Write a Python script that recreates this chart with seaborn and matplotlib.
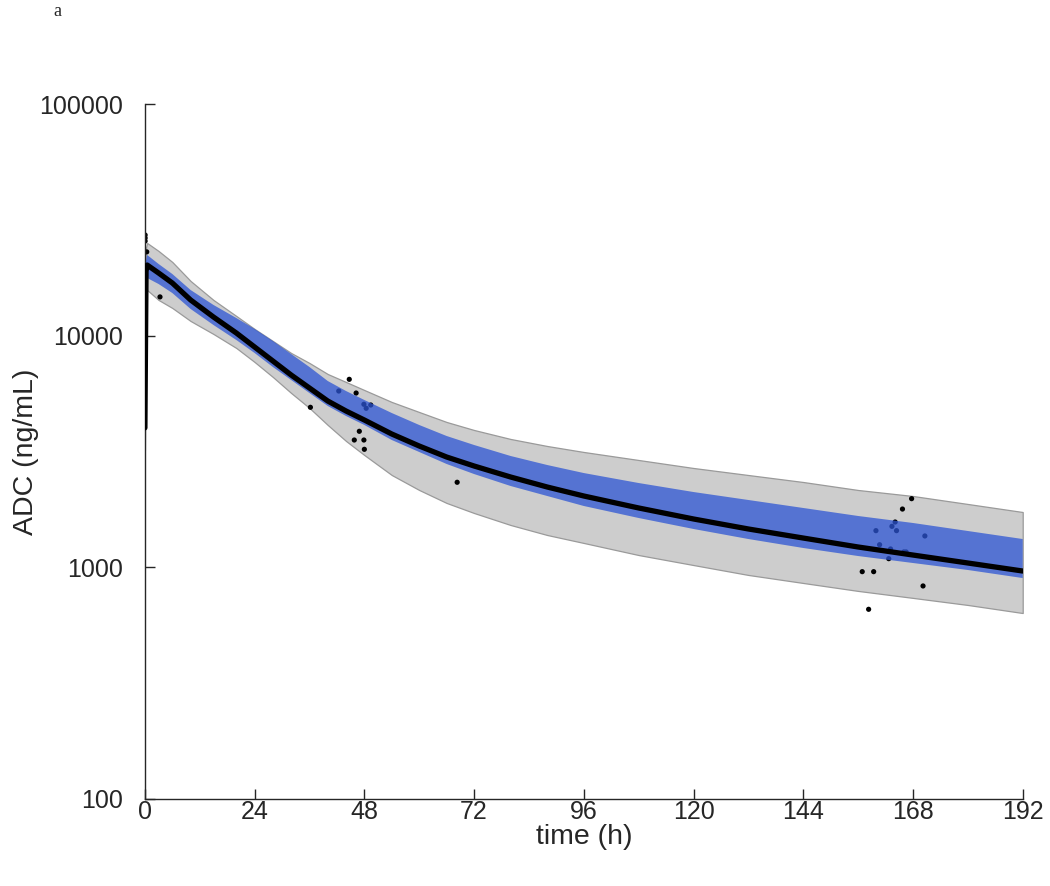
import numpy as np
import pandas as pd
import matplotlib
matplotlib.use("Agg")
import matplotlib.pyplot as plt
import seaborn as sns
from matplotlib.ticker import FixedLocator, NullLocator, FixedFormatter

# ---- data ----
time_h = [0, 0.25, 0.5, 3, 6, 10, 15, 20, 24, 28, 32, 36, 40, 44, 48, 54, 60, 66, 72,
          80, 88, 96, 108, 120, 132, 144, 156, 168, 180, 192]
median = [4000, 19000, 20180, 18640, 16880, 14260, 12040, 10270, 8935, 7774, 6763, 5943,
          5224, 4729, 4325, 3763, 3340, 2994, 2738, 2454, 2222, 2032, 1804, 1617, 1464,
          1338, 1224, 1130, 1044, 964]
ci_upper = [4600, 21000, 22300, 20390, 18460, 15745, 13570, 11920, 10690, 9484, 8333, 7323,
            6372, 5768, 5277, 4636, 4116, 3689, 3374, 3024, 2765, 2553, 2312, 2114, 1953,
            1804, 1666, 1554, 1435, 1325]
ci_lower = [3500, 16500, 17740, 16710, 15280, 13040, 11120, 9579, 8416, 7323, 6435, 5655,
            4971, 4500, 4116, 3545, 3147, 2793, 2528, 2244, 2032, 1840, 1633, 1464, 1325,
            1212, 1119, 1044, 974, 899]
pi_upper = [5000, 24000, 25120, 23200, 20800, 17220, 14260, 12160, 10690, 9484, 8416, 7621,
            6830, 6310, 5826, 5173, 4682, 4240, 3916, 3581, 3340, 3147, 2906, 2684, 2503,
            2335, 2157, 2032, 1877, 1733]
pi_lower = [3200, 15000, 15745, 14260, 13170, 11570, 10170, 8847, 7697, 6630, 5655, 4873,
            4116, 3510, 3053, 2503, 2157, 1896, 1716, 1523, 1379, 1274, 1130, 1023, 927,
            856, 791, 738, 688, 635]

obs_time = [0.05, 0.05, 0.05, 0.4, 3.3,
            44.7, 42.4, 46.2, 36.2, 47.9, 49.4, 48.4, 46.9, 45.8, 47.9, 48.0, 68.3,
            167.7, 165.7, 164.1, 159.9, 163.4, 164.4, 170.6, 160.7, 163.1, 166.0, 166.5,
            162.7, 156.9, 159.4, 170.2, 158.3]
obs_conc = [27200, 26400, 25600, 23000, 14700,
            6480, 5770, 5655, 4907, 5056, 5020, 4860, 3866, 3545, 3545, 3232, 2329,
            1979, 1785, 1569, 1440, 1503, 1440, 1366, 1252, 1200, 1165, 1165,
            1090, 958, 958, 831, 659]

x_ticks = [0, 24, 48, 72, 96, 120, 144, 168, 192]
y_ticks = [100, 1000, 10000, 100000]
y_tick_labels = ["100", "1000", "10000", "100000"]

# ---- plot ----
sns.set_theme(style="white")
plt.rcParams["font.family"] = ["Liberation Sans", "DejaVu Sans"]

fig = plt.figure(figsize=(10.5, 8.86), dpi=100)
ax = fig.add_axes([0.138, 0.0982, 0.836, 0.7844])

curve = pd.DataFrame({"time": time_h, "median": median, "ci_lo": ci_lower,
                      "ci_hi": ci_upper, "pi_lo": pi_lower, "pi_hi": pi_upper})
obs = pd.DataFrame({"time": obs_time, "conc": obs_conc})

ax.fill_between(curve["time"], curve["pi_lo"], curve["pi_hi"], facecolor="#cdcdcd",
                edgecolor="#9a9a9a", linewidth=0.9, zorder=1)
sns.scatterplot(data=obs, x="time", y="conc", ax=ax, color="black", s=14,
                edgecolor="none", zorder=2, legend=False)
ax.fill_between(curve["time"], curve["ci_lo"], curve["ci_hi"],
                facecolor=(45/255, 85/255, 212/255), alpha=0.75,
                edgecolor="none", linewidth=0, zorder=3)
sns.lineplot(data=curve, x="time", y="median", ax=ax, color="black", linewidth=3.8,
             zorder=4, legend=False)

ax.set_yscale("log")
ax.set_xlim(0, 192)
ax.set_ylim(100, 100000)
ax.xaxis.set_major_locator(FixedLocator(x_ticks))
ax.yaxis.set_major_locator(FixedLocator(y_ticks))
ax.yaxis.set_major_formatter(FixedFormatter(y_tick_labels))
ax.yaxis.set_minor_locator(NullLocator())
ax.tick_params(axis="both", which="major", direction="in", length=7, width=1.0,
               color="#262626", labelsize=18, labelcolor="#262626")
ax.tick_params(axis="y", pad=16)
ax.tick_params(axis="x", pad=1)
ax.tick_params(bottom=True, left=True)

for side in ["top", "right"]:
    ax.spines[side].set_visible(False)
for side in ["left", "bottom"]:
    ax.spines[side].set_color("#262626")
    ax.spines[side].set_linewidth(1.0)

ax.set_xlabel("time (h)", fontsize=20.5, color="#262626", labelpad=0)
ax.set_ylabel("ADC (ng/mL)", fontsize=20.5, color="#262626", labelpad=0)

fig.text(0.055, 0.997, "a", fontsize=13, family="Liberation Serif", va="top", ha="center")

fig.savefig("out.png", dpi=100)
